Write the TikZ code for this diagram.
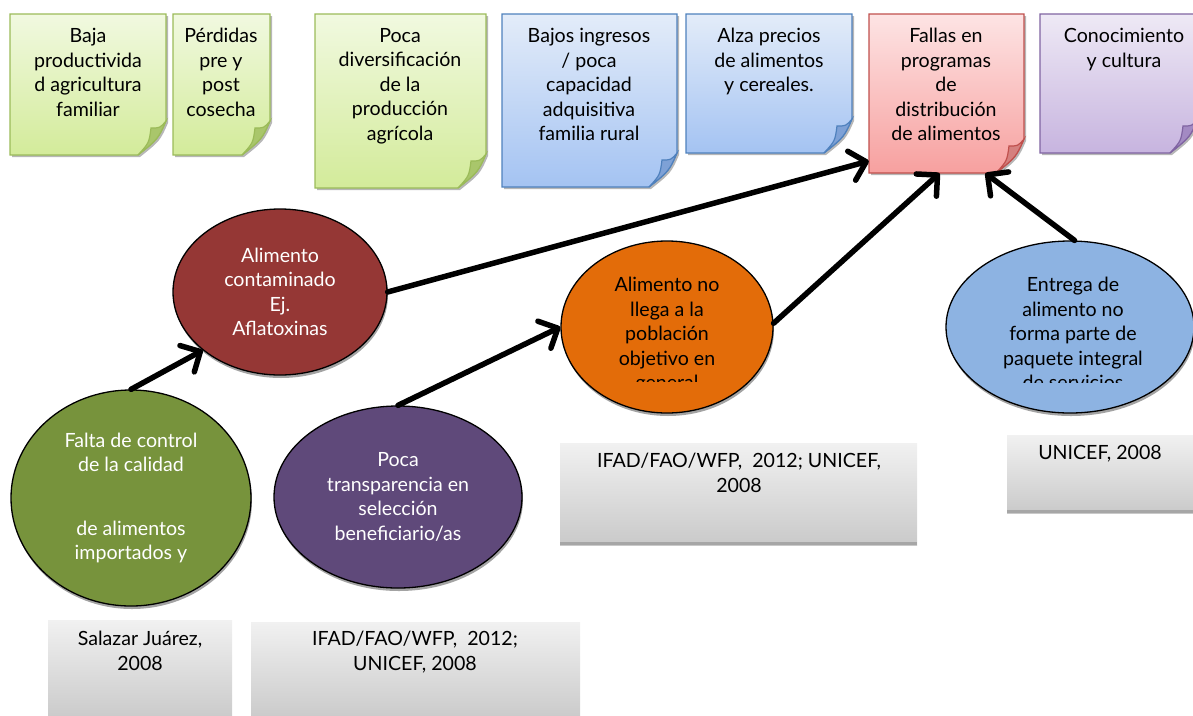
\documentclass[tikz,border=0pt]{standalone}
\usepackage{fontspec}
\setmainfont{Lato}
\usepackage{tikz}
\usetikzlibrary{arrows.meta}
\usetikzlibrary{shapes.geometric}
\usetikzlibrary{shadows}
\usetikzlibrary{calc}

\definecolor{leafline}{HTML}{9BBB59}
\definecolor{leaftop}{HTML}{F1F9E0}
\definecolor{leafbot}{HTML}{D3EB9A}
\definecolor{leaffold}{HTML}{A9C66B}
\definecolor{skyline}{HTML}{4F81BD}
\definecolor{skytop}{HTML}{E3ECF9}
\definecolor{skybot}{HTML}{A4C3F2}
\definecolor{skyfold}{HTML}{7EA1D6}
\definecolor{roseline}{HTML}{C0504D}
\definecolor{rosetop}{HTML}{FDE4E4}
\definecolor{rosebot}{HTML}{F7A09F}
\definecolor{rosefold}{HTML}{D5807E}
\definecolor{lilacline}{HTML}{8064A2}
\definecolor{lilactop}{HTML}{EEE9F5}
\definecolor{lilacbot}{HTML}{C7B4DF}
\definecolor{lilacfold}{HTML}{A38AC3}

\definecolor{wine}{HTML}{953735}
\definecolor{pumpkin}{HTML}{E36C09}
\definecolor{steel}{HTML}{8DB3E2}
\definecolor{oliva}{HTML}{77933C}
\definecolor{grape}{HTML}{5F497A}

% sticky note: x1, y1, x2, y2, colour scheme
\newcommand{\notepaper}[5]{%
  \path[draw=#5line, line width=1.2pt, top color=#5top, bottom color=#5bot,
        drop shadow={shadow xshift=2pt, shadow yshift=-2pt, fill=black!40, opacity=0.7}]
    (#1,#2) -- (#3,#2) -- ($(#3,#4)+(0,-34)$)
    .. controls ($(#3,#4)+(-8,-16)$) .. ($(#3,#4)+(-28,0)$) -- (#1,#4) -- cycle;
  \path[draw=#5line, line width=1.2pt, fill=#5fold]
    ($(#3,#4)+(0,-34)$) .. controls ($(#3,#4)+(-6,-27)$) .. ($(#3,#4)+(-15,-27)$)
    .. controls ($(#3,#4)+(-17,-12)$) .. ($(#3,#4)+(-28,0)$)
    .. controls ($(#3,#4)+(-8,-16)$) .. cycle;
}

\begin{document}
\begin{tikzpicture}[x=1pt, y=-1pt,
    txt/.style={font=\fontsize{19.6}{24.5}\selectfont, align=center, inner sep=0pt, anchor=north},
    bubble/.style={ellipse, draw=black, line width=1.3pt, inner sep=0pt, align=center,
        font=\fontsize{19.6}{24.5}\selectfont,
        drop shadow={shadow xshift=1pt, shadow yshift=-3pt, fill=black!45, opacity=0.8}},
    srcbox/.style={top color=gray!11, bottom color=gray!42},
    srcedge/.style={draw=gray!70, line width=3pt},
    bigarrow/.style={line width=5.5pt, line cap=round, -{Straight Barb[length=15pt, width=30pt, round]}}]

    \useasboundingbox (0,0) rectangle (1193,715);

    % notas
    \notepaper{10}{14}{166}{155}{leaf}
    \notepaper{173}{14}{270}{155}{leaf}
    \notepaper{315}{14}{486}{188}{leaf}
    \notepaper{502}{14}{677}{187}{sky}
    \notepaper{686}{14}{852}{153}{sky}
    \notepaper{869}{14}{1024}{173}{rose}
    \notepaper{1040}{14}{1198}{153}{lilac}

    \node[txt] (baja)    at (88,28)   {Baja\\productivida\\d agricultura\\familiar};
    \node[txt] (perdida) at (221,28)  {Pérdidas\\pre y\\post\\cosecha};
    \node[txt] (diversa) at (400,28)  {Poca\\diversificación\\de la\\producción\\agrícola};
    \node[txt] (ingreso) at (589,28)  {Bajos ingresos\\/ poca\\capacidad\\adquisitiva\\familia rural};
    \node[txt] (precios) at (769,28)  {Alza precios\\de alimentos\\y cereales.};
    \node[txt] (fallastxt) at (946,28) {Fallas en\\programas\\de\\distribución\\de alimentos};
    \node[txt] (cultura) at (1124,28) {Conocimiento\\y cultura};
    \node[minimum width=155pt, minimum height=159pt, inner sep=0pt] (fallas) at (946.5,93.5) {};

    % fuentes
    \path[srcbox] (48,620) rectangle (232,720);
    \path[srcbox] (251,622) rectangle (580,720);
    \path[srcbox] (560,443) rectangle (917,545);
    \draw[srcedge] (560,543.5) -- (917,543.5);
    \path[srcbox] (1007,435) rectangle (1193,513);
    \draw[srcedge] (1007,511.5) -- (1193,511.5);

    \node[txt] (salazar) at (140,631) {Salazar Juárez,\\2008};
    \node[txt] (ifadA)   at (415,631) {IFAD/FAO/WFP,\ \ 2012;\\UNICEF, 2008};
    \node[txt] (ifadB)   at (739,453) {IFAD/FAO/WFP,\ \ 2012; UNICEF,\\2008};
    \node[txt] (unicef)  at (1100,445) {UNICEF, 2008};

    % causas
    \node[bubble, fill=oliva, text=white, minimum width=240pt, minimum height=216pt] (falta) at (131,498)
        {Falta de control\\de la calidad\\[39pt]de alimentos\\importados y};
    \node[bubble, fill=wine, text=white, minimum width=214pt, minimum height=166pt] (alcont) at (280,292)
        {Alimento\\contaminado\\Ej.\\Aflatoxinas};
    \node[bubble, fill=grape, text=white, minimum width=248pt, minimum height=182pt] (transp) at (398,497)
        {Poca\\transparencia en\\selección\\beneficiario/as};
    \node[bubble, fill=pumpkin, minimum width=212pt, minimum height=172pt] (nollega) at (667,327) {};
    \node[bubble, fill=steel, minimum width=248pt, minimum height=172pt] (entrega) at (1070,327) {};

    \begin{scope}
        \clip (560,250) rectangle (780,381);
        \node[txt] (nollegatxt) at (667,277) {Alimento no\\llega a la\\población\\objetivo en\\general};
    \end{scope}
    \begin{scope}
        \clip (950,250) rectangle (1193,382);
        \node[txt] (entregatxt) at (1073,277) {Entrega de\\alimento no\\forma parte de\\paquete integral\\de servicios};
    \end{scope}

    \draw[bigarrow] (falta.north) -- (alcont.217);
    \draw[bigarrow] (alcont.east) -- (fallas.221);
    \draw[bigarrow] (transp.north) -- (nollega.west);
    \draw[bigarrow] (nollega.2) -- (fallas.265);
    \draw[bigarrow] (entrega.87) -- (fallas.296);
\end{tikzpicture}
\end{document}
